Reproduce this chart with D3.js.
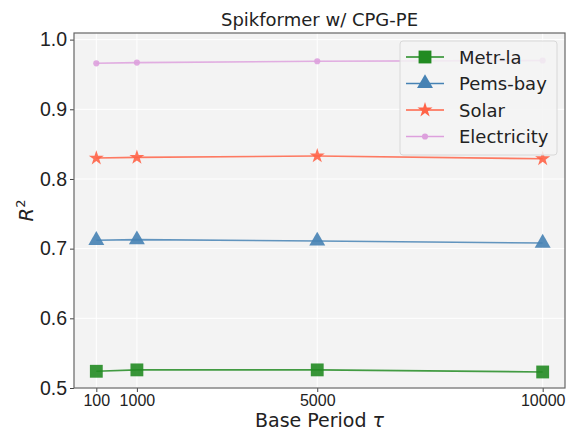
<!DOCTYPE html>
<html>
<head>
<meta charset="utf-8">
<script src="https://cdn.jsdelivr.net/npm/d3@7"></script>
<style>
  body { margin: 0; background: #fff; }
  svg { font-family: "DejaVu Sans", sans-serif; }
</style>
</head>
<body>
<div id="chart"></div>
<script>
// data
const periods = [100, 1000, 5000, 10000];
const xTicks = [100, 1000, 5000, 10000];
const yTicks = [0.5, 0.6, 0.7, 0.8, 0.9, 1.0];
const metrLa = [0.524, 0.526, 0.526, 0.523];
const pemsBay = [0.712, 0.713, 0.711, 0.708];
const solar = [0.830, 0.831, 0.833, 0.829];
const electricity = [0.966, 0.967, 0.969, 0.970];

const series = [
  { name: 'Metr-la', values: metrLa, color: '#228B22', marker: 'square' },
  { name: 'Pems-bay', values: pemsBay, color: '#4682B4', marker: 'triangle' },
  { name: 'Solar', values: solar, color: '#FF6347', marker: 'star' },
  { name: 'Electricity', values: electricity, color: '#DDA0DD', marker: 'circle' }
];

const width = 572, height = 431;
const margin = { top: 33, left: 74, right: 7, bottom: 43 };

const svg = d3.select('#chart').append('svg')
  .attr('width', width)
  .attr('height', height);

const x = d3.scaleLinear()
  .domain([-395, 10495])
  .range([margin.left, width - margin.right]);

const y = d3.scaleLinear()
  .domain([0.5, 1.0095])
  .range([height - margin.bottom, margin.top]);

// plot background
svg.append('rect')
  .attr('x', margin.left).attr('y', margin.top)
  .attr('width', x.range()[1] - x.range()[0])
  .attr('height', y.range()[0] - y.range()[1])
  .attr('fill', '#f3f3f3');

// grid
svg.append('g').selectAll('line').data(xTicks).enter().append('line')
  .attr('x1', d => x(d)).attr('x2', d => x(d))
  .attr('y1', y.range()[1]).attr('y2', y.range()[0])
  .attr('stroke', '#fff').attr('stroke-width', 1);
svg.append('g').selectAll('line').data(yTicks).enter().append('line')
  .attr('x1', x.range()[0]).attr('x2', x.range()[1])
  .attr('y1', d => y(d)).attr('y2', d => y(d))
  .attr('stroke', '#fff').attr('stroke-width', 1);

// axes
const xAxis = d3.axisBottom(x).tickValues(xTicks).tickFormat(d3.format('d')).tickSize(4).tickPadding(3);
const yAxis = d3.axisLeft(y).tickValues(yTicks).tickFormat(d3.format('.1f')).tickSize(4).tickPadding(3);

const gx = svg.append('g')
  .attr('transform', 'translate(0,' + y.range()[0] + ')')
  .call(xAxis);
gx.select('.domain').remove();
gx.selectAll('.tick line').attr('stroke', '#444');
gx.selectAll('.tick text').attr('font-size', 16).attr('fill', '#222');

const gy = svg.append('g')
  .attr('transform', 'translate(' + x.range()[0] + ',0)')
  .call(yAxis);
gy.select('.domain').remove();
gy.selectAll('.tick line').attr('stroke', '#444');
gy.selectAll('.tick text').attr('font-size', 19.5).attr('fill', '#222');

// frame
svg.append('rect')
  .attr('x', margin.left).attr('y', margin.top)
  .attr('width', x.range()[1] - x.range()[0])
  .attr('height', y.range()[0] - y.range()[1])
  .attr('fill', 'none').attr('stroke', '#666').attr('stroke-width', 1.2);

const symbols = {
  square: d3.symbol().type(d3.symbolSquare).size(165),
  triangle: d3.symbol().type(d3.symbolTriangle).size(110),
  star: d3.symbol().type(d3.symbolStar).size(70),
  circle: d3.symbol().type(d3.symbolCircle).size(30)
};

const line = d3.line()
  .x((d, i) => x(periods[i]))
  .y(d => y(d));

series.forEach(s => {
  const g = svg.append('g');
  g.append('path')
    .attr('d', line(s.values))
    .attr('fill', 'none')
    .attr('stroke', s.color)
    .attr('stroke-opacity', 0.85)
    .attr('stroke-width', 1.6);
  g.selectAll('path.pt').data(s.values).enter().append('path')
    .attr('class', 'pt')
    .attr('transform', (d, i) => 'translate(' + x(periods[i]) + ',' + y(d) + ')')
    .attr('d', symbols[s.marker])
    .attr('fill', s.color)
    .attr('fill-opacity', 0.9);
});

// legend
const lg = svg.append('g').attr('transform', 'translate(400,41)');
lg.append('rect')
  .attr('width', 157).attr('height', 114)
  .attr('rx', 3)
  .attr('fill', '#f3f3f3').attr('fill-opacity', 0.85)
  .attr('stroke', '#d8d8d8');
series.forEach((s, i) => {
  const row = lg.append('g').attr('transform', 'translate(0,' + (16 + i * 26.5) + ')');
  row.append('line')
    .attr('x1', 6).attr('x2', 44)
    .attr('stroke', s.color).attr('stroke-width', 1.6);
  row.append('path')
    .attr('transform', 'translate(25,0)')
    .attr('d', symbols[s.marker])
    .attr('fill', s.color);
  row.append('text')
    .attr('x', 59).attr('y', 6.5)
    .attr('font-size', 18)
    .attr('fill', '#222')
    .text(s.name);
});

// title and labels
svg.append('text')
  .attr('x', (x.range()[0] + x.range()[1]) / 2)
  .attr('y', 26)
  .attr('text-anchor', 'middle')
  .attr('font-size', 18)
  .attr('fill', '#222')
  .text('Spikformer w/ CPG-PE');

const xl = svg.append('text')
  .attr('x', (x.range()[0] + x.range()[1]) / 2)
  .attr('y', 427)
  .attr('text-anchor', 'middle')
  .attr('font-size', 19)
  .attr('fill', '#222');
xl.append('tspan').text('Base Period ');
xl.append('tspan').attr('font-style', 'italic').text('\u03c4');

const yl = svg.append('text')
  .attr('transform', 'translate(33,' + ((y.range()[0] + y.range()[1]) / 2) + ') rotate(-90)')
  .attr('text-anchor', 'middle')
  .attr('font-size', 19.5)
  .attr('fill', '#222');
yl.append('tspan').attr('font-style', 'italic').text('R');
yl.append('tspan').attr('font-size', 13).attr('dy', -8).text('2');
</script>
</body>
</html>
